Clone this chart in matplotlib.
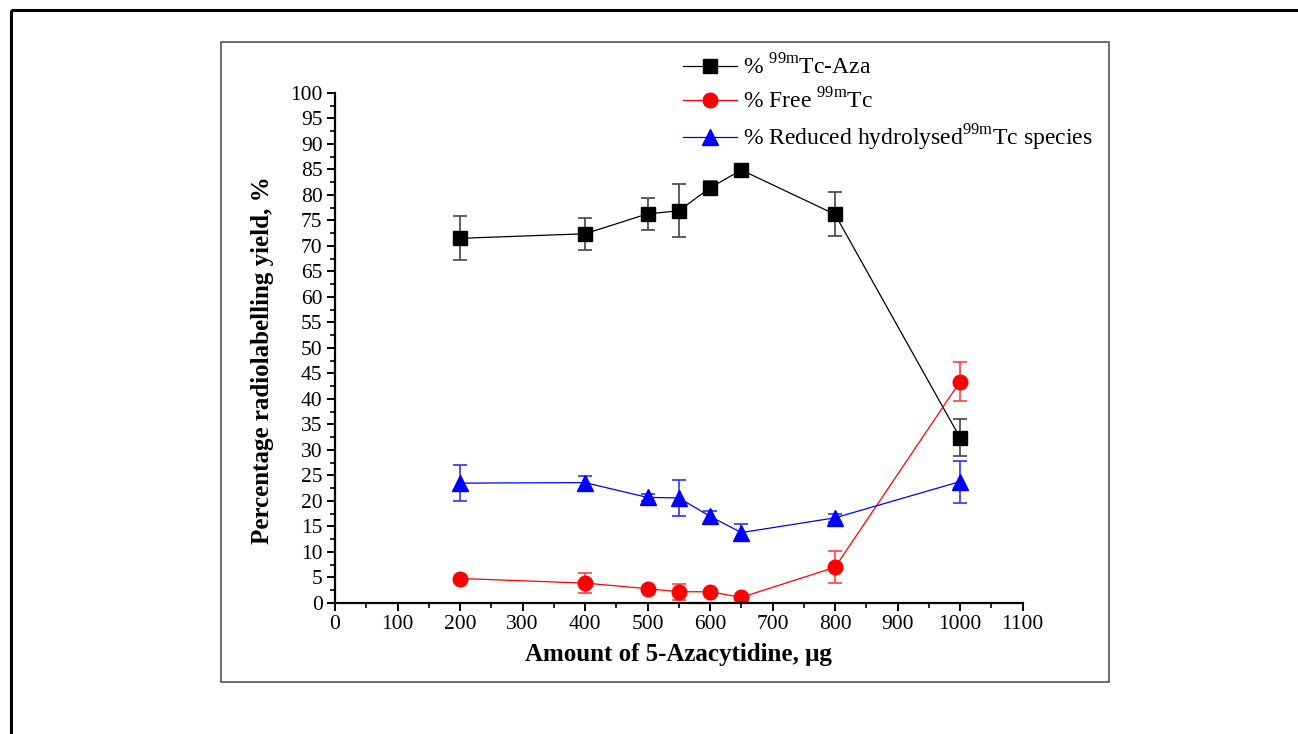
import matplotlib
matplotlib.use('Agg')
import matplotlib.pyplot as plt
from matplotlib.patches import Rectangle
from matplotlib.ticker import MultipleLocator

matplotlib.rc('font', family='Liberation Serif', size=15)
matplotlib.rcParams['mathtext.fontset'] = 'custom'
matplotlib.rcParams['mathtext.rm'] = 'Liberation Serif'

amount = [200, 400, 500, 550, 600, 650, 800, 1000]

aza = [71.5, 72.4, 76.3, 76.9, 81.4, 84.9, 76.2, 32.4]
aza_err = [4.3, 3.1, 3.2, 5.2, 1.3, 0.4, 4.3, 3.6]

free = [4.8, 3.9, 2.8, 2.2, 2.2, 1.1, 7.0, 43.4]
free_err = [0.3, 1.9, 0.3, 1.6, 0.3, 0.3, 3.1, 3.8]

reduced = [23.5, 23.6, 20.7, 20.6, 17.0, 13.8, 16.7, 23.8]
reduced_err = [3.6, 1.3, 0.7, 3.5, 1.1, 1.6, 0.8, 4.1]

fig = plt.figure(figsize=(12.98, 7.34), dpi=100)
ax = fig.add_axes([0.2581, 0.1785, 0.7878 - 0.2581, 0.8733 - 0.1785])

# outer border and inner frame, in pixels of the figure
fig.patches.append(Rectangle((11, 734 - 10), 1400, -800, transform=None,
                             fill=False, edgecolor='black', linewidth=2.2))
fig.patches.append(Rectangle((221, 734 - 682), 888, 640, transform=None,
                             fill=False, edgecolor='#555555', linewidth=1.2))

eb = dict(lw=0.9, elinewidth=1.2, capsize=5, capthick=1.2)
c1 = ax.errorbar(amount, aza, yerr=aza_err, color='black', ecolor='#444444',
                 marker='s', ms=10, **eb)
c2 = ax.errorbar(amount, free, yerr=free_err, color='red', ecolor='#ff4040',
                 marker='o', ms=10.5, **eb)
c3 = ax.errorbar(amount, reduced, yerr=reduced_err, color='blue', ecolor='#3030ff',
                 marker='^', ms=11, **eb)

ax.set_xlim(0, 1100)
ax.set_ylim(0, 100)
ax.xaxis.set_major_locator(MultipleLocator(100))
ax.xaxis.set_minor_locator(MultipleLocator(50))
ax.yaxis.set_major_locator(MultipleLocator(5))
ax.yaxis.set_minor_locator(MultipleLocator(2.5))

ax.spines['top'].set_visible(False)
ax.spines['right'].set_visible(False)
ax.spines['left'].set_linewidth(1.6)
ax.spines['bottom'].set_linewidth(1.6)
ax.tick_params(which='major', direction='out', length=6, width=1.4, labelsize=15.5, pad=3)
ax.tick_params(which='minor', direction='out', length=3.5, width=1.2)
ax.patch.set_alpha(0)

ax.set_xlabel('Amount of 5-Azacytidine, μg', fontsize=18, fontweight='bold', labelpad=6)
ax.set_ylabel('Percentage radiolabelling yield, %', fontsize=18, fontweight='bold')
ax.yaxis.set_label_coords(-0.089, 0.476)

labels = [r'% $^{\mathregular{99m}}$Tc-Aza',
          r'% Free $^{\mathregular{99m}}$Tc',
          r'% Reduced hydrolysed$^{\mathregular{99m}}$Tc species']
fig.legend([c1[0], c2[0], c3[0]], labels, loc='upper left',
           bbox_to_anchor=(683 / 1298, 1 - 54 / 734), frameon=False,
           fontsize=17, handlelength=2.3, handletextpad=0.25, labelspacing=0.38,
           borderpad=0, borderaxespad=0)

fig.savefig('out.png', dpi=100)
